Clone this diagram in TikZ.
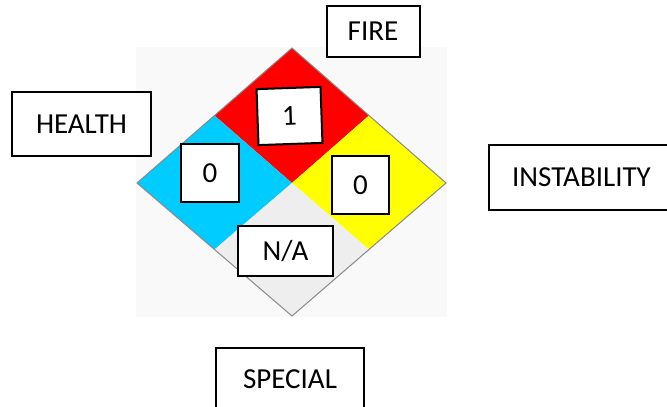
\documentclass[tikz,border=0pt]{standalone}
\usepackage{fontspec}
\setmainfont{Carlito}
\usepackage{tikz}

\definecolor{hred}{HTML}{FF0000}
\definecolor{hblue}{HTML}{00CCFF}
\definecolor{hyellow}{HTML}{FFFF00}
\definecolor{hgray}{HTML}{EEEEEE}
\definecolor{hback}{HTML}{F9F9F9}
\definecolor{hedge}{HTML}{8A8A8A}

\begin{document}
\begin{tikzpicture}
[x=0.5pt,y=-0.5pt,font=\fontsize{14.5}{17}\selectfont,
tag/.style = {draw, line width = 1pt, fill = white, inner sep = 0pt},
rating/.style = {tag, minimum width = 29pt, minimum height = 29pt},]

\useasboundingbox (0,0) rectangle (667,406);

% diamond corners
\coordinate (T) at (292,48);
\coordinate (L) at (137,183);
\coordinate (R) at (446,183);
\coordinate (B) at (292,316);
\coordinate (O) at (292,183);
\coordinate (TL) at (214.5,115.5);
\coordinate (TR) at (369,115.5);
\coordinate (BL) at (214.5,249.5);
\coordinate (BR) at (369,249.5);

\fill [hback] (136,47) rectangle (447,317);
\fill [hred] (T)--(TR)--(O)--(TL)--cycle;
\fill [hblue] (TL)--(O)--(BL)--(L)--cycle;
\fill [hyellow] (TR)--(R)--(BR)--(O)--cycle;
\fill [hgray] (O)--(BR)--(B)--(BL)--cycle;
\draw [hedge,line width=0.5pt] (T)--(R)--(B)--(L)--cycle;
%\draw (TL)--(BR);
%\draw (TR)--(BL);

% ratings
\node (fireval) at (289.5,116)[rating,minimum width=32pt,minimum height=28pt,rotate=2] {1};
\node (healthval) at (210,173)[rating] {0};
\node (instabval) at (360.5,185)[rating,minimum width=28.5pt] {0};
\node (specialval) at (285.5,251)[rating,minimum width=47.5pt,minimum height=25pt] {N/A};

% headings
\node (fire) at (373,31.5)[tag,minimum width=46.5pt,minimum height=25.5pt] {FIRE};
\node (health) at (81.5,124)[tag,minimum width=69.5pt,minimum height=32pt] {HEALTH};
\node (instab) at (581.5,177.5)[tag,minimum width=92.5pt,minimum height=32.5pt] {INSTABILITY};
\node (special) at (290,379)[tag,minimum width=74pt,minimum height=31pt] {SPECIAL};

\end{tikzpicture}
\end{document}
